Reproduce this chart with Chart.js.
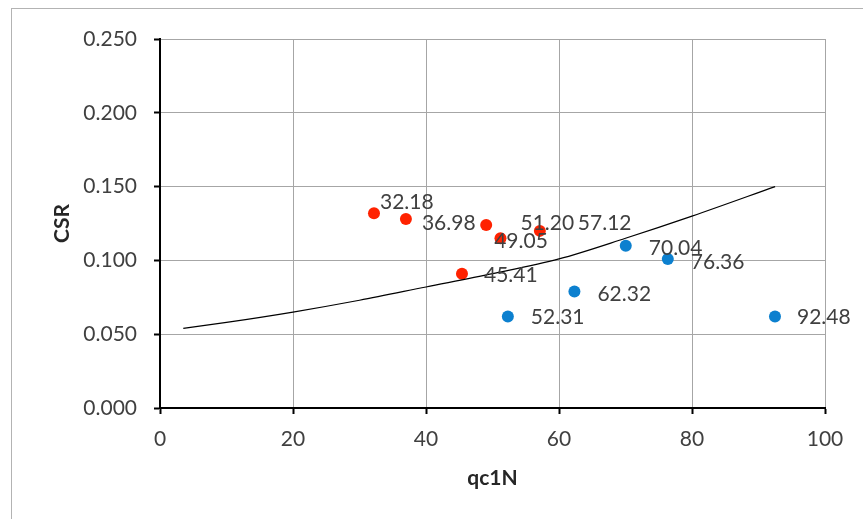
<!DOCTYPE html>
<html>
<head>
<meta charset="utf-8">
<script src="https://cdn.jsdelivr.net/npm/chart.js@4"></script>
<style>
  body { margin: 0; overflow: hidden; background: #fff; }
  #frame { position: absolute; left: 11px; top: 8px; width: 900px; height: 600px; border: 1px solid #b3b3b3; }
  #wrap { position: absolute; left: 0; top: 0; width: 863px; height: 519px; }
</style>
</head>
<body>
<div id="frame"></div>
<div id="wrap"><canvas id="grafico" width="863" height="519"></canvas></div>
<script>
// pontos liquefeitos (vermelho)
const redX = [32.18, 36.98, 49.05, 51.20, 57.12, 45.41];
const redY = [0.132, 0.128, 0.124, 0.115, 0.120, 0.091];
// pontos nao liquefeitos (azul)
const blueX = [52.31, 62.32, 70.04, 76.36, 92.48];
const blueY = [0.062, 0.079, 0.110, 0.101, 0.062];
// curva CRR
const curveX = [3.5, 10, 20, 30, 40, 50, 60, 70, 80, 92.5];
const curveY = [0.054, 0.058, 0.065, 0.073, 0.082, 0.091, 0.101, 0.115, 0.130, 0.150];
const xTicks = [0, 20, 40, 60, 80, 100];
const yTicks = [0, 0.05, 0.10, 0.15, 0.20, 0.25];

// deslocamento dos rotulos (px), como no original
const redOffsets = [[6, -11], [16, 4], [8, 16], [20, -15], [38, -8], [22, 2]];
const blueOffsets = [[23, 1], [23, 3], [23, 3], [23, 3], [22, 1]];

const pts = (xs, ys) => xs.map((x, i) => ({ x: x, y: ys[i] }));
const fonte = 'Lato, "Open Sans", sans-serif';

const rotulos = {
  id: 'rotulos',
  afterDatasetsDraw(chart) {
    const ctx = chart.ctx;
    ctx.save();
    ctx.font = '21px ' + fonte;
    ctx.fillStyle = '#404040';
    ctx.textAlign = 'left';
    ctx.textBaseline = 'middle';
    chart.data.datasets.forEach((ds, di) => {
      if (!ds.offsets) return;
      chart.getDatasetMeta(di).data.forEach((el, i) => {
        const off = ds.offsets[i];
        ctx.fillText(ds.data[i].x.toFixed(2), el.x + off[0], el.y + off[1]);
      });
    });
    ctx.restore();
  }
};

new Chart(document.getElementById('grafico'), {
  type: 'scatter',
  data: {
    datasets: [{
      data: pts(curveX, curveY),
      showLine: true,
      borderColor: '#000',
      borderWidth: 1.2,
      pointRadius: 0,
      cubicInterpolationMode: 'monotone'
    }, {
      data: pts(redX, redY),
      backgroundColor: '#ff2200',
      borderWidth: 0,
      pointRadius: 6,
      offsets: redOffsets
    }, {
      data: pts(blueX, blueY),
      backgroundColor: '#0c80cf',
      borderWidth: 0,
      pointRadius: 6,
      offsets: blueOffsets
    }]
  },
  options: {
    responsive: false,
    animation: false,
    layout: { padding: { left: 50, top: 39, right: 38, bottom: 28 } },
    plugins: { legend: { display: false }, tooltip: { enabled: false } },
    scales: {
      x: {
        type: 'linear',
        min: 0, max: 100,
        afterFit(s) { s.height = 83; },
        afterBuildTicks(s) { s.ticks = xTicks.map(v => ({ value: v })); },
        grid: { color: '#a6a6a6', lineWidth: 1, tickColor: '#000', tickLength: 6, tickWidth: 2 },
        border: { color: '#000', width: 2 },
        ticks: { color: '#404040', font: { family: fonte, size: 21 }, padding: 13, maxRotation: 0 },
        title: { display: true, text: 'qc1N', color: '#262626', padding: 0, font: { family: fonte, size: 21, weight: 'bold' } }
      },
      y: {
        type: 'linear',
        min: 0, max: 0.25,
        afterFit(s) { s.width = 110; },
        afterBuildTicks(s) { s.ticks = yTicks.map(v => ({ value: v })); },
        grid: { color: '#a6a6a6', lineWidth: 1, tickColor: '#000', tickLength: 6, tickWidth: 2 },
        border: { color: '#000', width: 2 },
        ticks: { color: '#404040', font: { family: fonte, size: 21 }, padding: 17, callback: v => v.toFixed(3) },
        title: { display: true, text: 'CSR', color: '#262626', padding: 0, font: { family: fonte, size: 21, weight: 'bold' } }
      }
    }
  },
  plugins: [rotulos]
});
</script>
</body>
</html>
